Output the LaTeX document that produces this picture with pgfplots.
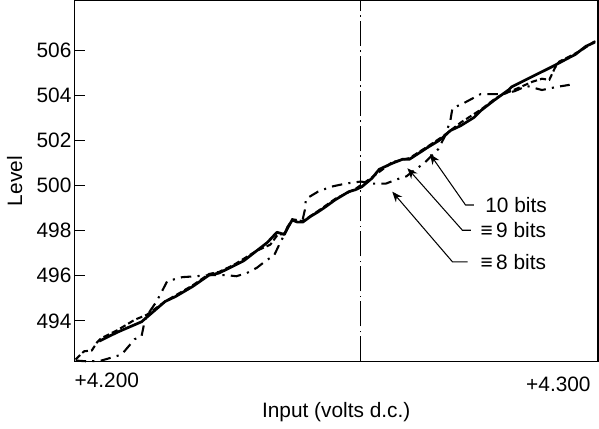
\documentclass[border=0pt]{standalone}
\usepackage{pgfplots}
\pgfplotsset{compat=1.18}
\usepackage{fontspec}
\setmainfont{Liberation Sans}
\usetikzlibrary{arrows.meta}

% 10 bits (solid)
\pgfplotstableread{
x y
4.2047 493.10
4.2082 493.50
4.2128 493.96
4.2173 494.86
4.2193 495.08
4.2226 495.53
4.2257 496.03
4.2276 496.12
4.2323 496.66
4.2348 497.11
4.2368 497.47
4.2381 497.79
4.2387 497.93
4.2401 497.83
4.2407 498.15
4.2416 498.47
4.2426 498.38
4.2436 498.38
4.2452 498.65
4.2465 498.83
4.2479 499.05
4.2498 499.37
4.2524 499.73
4.2537 499.82
4.2549 499.95
4.2568 500.32
4.2582 500.72
4.2607 500.99
4.2627 501.17
4.2640 501.17
4.2664 501.53
4.2673 501.67
4.2695 501.98
4.2703 502.12
4.2718 502.44
4.2738 502.66
4.2763 503.02
4.2777 503.34
4.2802 503.79
4.2829 504.24
4.2835 504.38
4.2874 504.83
4.2913 505.28
4.2938 505.59
4.2957 505.82
4.2977 506.18
4.2994 506.36
}\tenbits

% ~9 bits (dashed)
\pgfplotstableread{
x y
4.2002 492.29
4.2018 492.65
4.2033 492.69
4.2043 493.05
4.2051 493.23
4.2082 493.59
4.2115 494.05
4.2138 494.27
4.2173 494.86
4.2226 495.58
4.2257 496.08
4.2276 496.17
4.2304 496.48
4.2348 497.11
4.2374 497.38
4.2387 497.79
4.2401 497.88
4.2416 498.51
4.2436 498.42
4.2465 498.87
4.2498 499.41
4.2537 499.86
4.2568 500.36
4.2607 501.04
4.2640 501.22
4.2673 501.71
4.2703 502.17
4.2738 502.80
4.2777 503.38
4.2802 503.83
4.2815 504.01
4.2848 504.33
4.2874 504.60
4.2893 504.74
4.2907 504.69
4.2918 505.23
4.2926 505.50
4.2946 505.73
4.2971 506.04
4.2991 506.36
4.3000 506.45
}\ninebits

% ~8 bits (dash-dot)
\pgfplotstableread{
x y
4.2002 492.24
4.2027 492.20
4.2051 492.24
4.2072 492.38
4.2090 492.51
4.2115 493.19
4.2128 493.32
4.2134 494.00
4.2138 494.23
4.2154 494.77
4.2163 495.13
4.2177 495.76
4.2206 495.94
4.2232 495.98
4.2257 496.03
4.2290 496.03
4.2309 495.98
4.2329 496.12
4.2348 496.35
4.2368 496.71
4.2381 496.89
4.2391 497.38
4.2401 497.83
4.2416 498.47
4.2426 498.38
4.2436 498.51
4.2440 498.92
4.2442 499.41
4.2465 499.73
4.2490 499.95
4.2518 500.09
4.2547 500.18
4.2568 500.09
4.2595 500.09
4.2621 500.32
4.2634 500.41
4.2654 500.77
4.2666 500.95
4.2695 501.62
4.2708 502.21
4.2718 502.89
4.2722 503.43
4.2743 503.65
4.2776 504.06
4.2819 504.06
4.2841 504.19
4.2864 504.42
4.2893 504.24
4.2922 504.38
4.2946 504.47
}\eightbits

\begin{document}
\begin{tikzpicture}
\begin{axis}[
  scale only axis,
  width=251pt, height=173pt,
  xmin=4.2, xmax=4.3,
  ymin=492.2, ymax=508.2,
  axis line style={line width=0.7pt},
  ytick={494,496,...,506},
  ytick pos=left,
  tick align=inside,
  major tick length=5pt,
  tick style={line width=0.6pt, black},
  xtick={4.2},
  xticklabels={+4.200},
  xtick style={draw=none},
  xticklabel style={anchor=north west, xshift=-3.5pt, yshift=-2pt},
  extra x ticks={4.3},
  extra x tick labels={+4.300},
  extra x tick style={xticklabel style={anchor=north east, xshift=3.5pt, yshift=-2pt}, tick style={draw=none}},
  /pgf/number format/assume math mode=true,
  yticklabel style={/pgf/number format/1000 sep={}, xshift=2pt},
  xlabel={Input (volts d.c.)},
  ylabel={Level},
  xlabel style={yshift=2pt},
  clip=false,
]
\addplot[black, line width=1.3pt, line join=round] table {\tenbits};
\addplot[black, line width=1pt, dash pattern=on 3pt off 1.5pt] table {\ninebits};
\addplot[black, line width=1pt, dash pattern=on 5pt off 3pt on 1pt off 3pt] table {\eightbits};
\draw[black, line width=0.5pt, dash pattern=on 12pt off 2pt on 0.8pt off 2pt]
  (axis cs:4.2547,492.2) -- (axis cs:4.2547,508.2);
\draw[{Stealth[length=5pt,width=4pt]}-, line width=0.5pt]
  (axis cs:4.2679,501.40) -- (axis cs:4.2747,499.14) -- (axis cs:4.2763,499.14);
\node[anchor=west, inner sep=0pt] at (axis cs:4.2784,499.14) {10 bits};
\draw[{Stealth[length=5pt,width=4pt]}-, line width=0.5pt]
  (axis cs:4.2636,500.77) -- (axis cs:4.2741,498.02) -- (axis cs:4.2757,498.02);
\node[anchor=west, inner sep=0pt] at (axis cs:4.2775,498.02) {≡\,9 bits};
\draw[{Stealth[length=5pt,width=4pt]}-, line width=0.5pt]
  (axis cs:4.2607,499.73) -- (axis cs:4.2722,496.62) -- (axis cs:4.2751,496.62);
\node[anchor=west, inner sep=0pt] at (axis cs:4.2775,496.62) {≡\,8 bits};
\end{axis}
\end{tikzpicture}
\end{document}
